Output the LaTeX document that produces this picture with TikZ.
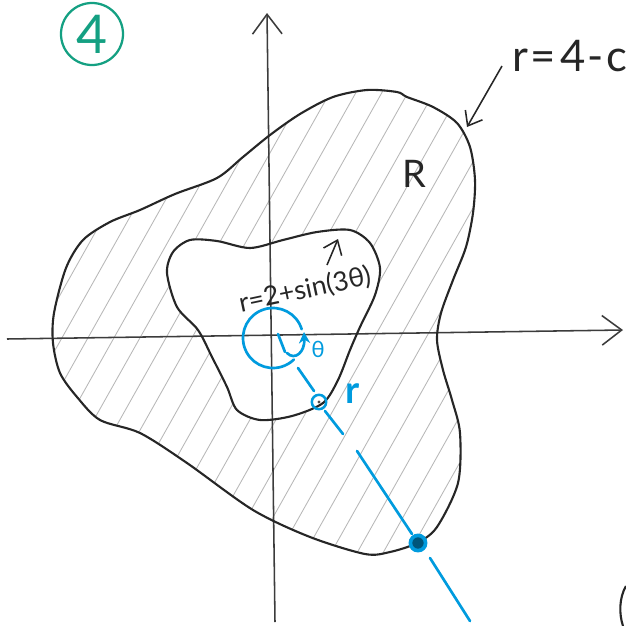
\documentclass[tikz,border=0pt]{standalone}
\usepackage{fontspec}
\setmainfont{Lato}
\usetikzlibrary{arrows.meta}
\definecolor{penblue}{RGB}{0,155,222}
\definecolor{pengreen}{RGB}{20,160,130}
\definecolor{pencil}{RGB}{60,60,60}
\newcommand\outerpath{plot[smooth cycle, tension=0.5] coordinates {(53,343) (54,313) (66,268) (83,240) (110,222) (140,210) (175,194) (217,178) (243,157) (270,135) (300,114) (333,97) (367,90) (397,92) (407,97) (433,107) (457,123) (470,147) (475,180) (473,213) (466,247) (453,280) (441,313) (437,340) (443,370) (452,400) (460,433) (458,483) (437,527) (417,543) (390,552) (365,554) (310,537) (253,510) (187,463) (140,433) (100,420) (77,397) (60,373)}}
\newcommand\innerpath{plot[smooth cycle, tension=0.5] coordinates {(167,273) (173,252) (190,240) (217,241) (250,248) (283,240) (317,232) (350,230) (370,243) (380,268) (375,295) (360,327) (350,350) (338,380) (323,403) (292,416) (260,420) (237,410) (227,387) (212,357) (198,330) (177,307)}}
\tikzset{
  curve/.style={draw=black!85, line width=1.5pt},
  axis/.style={draw=pencil, line width=1.1pt, -{Straight Barb[length=14pt,width=21pt,line width=1.1pt]}},
  hatch/.style={draw=black!28, line width=0.6pt},
  bluestroke/.style={draw=penblue, line width=1.9pt, line cap=round},
  labelarrow/.style={draw=black!85, line width=1.1pt, -{Straight Barb[length=9pt,width=14pt,line width=1.1pt]}},
  hand/.style={inner sep=0pt, text=black!85}
}
\begin{document}
\begin{tikzpicture}[x=0.025cm,y=-0.025cm]
\useasboundingbox (0,0) rectangle (626,626);
\fill[white] (0,0) rectangle (626,626);

% hatching of region R
\begin{scope}[even odd rule]
  \clip \outerpath \innerpath;
  \foreach \c in {-420,-394,...,650} \draw[hatch] (\c,640) -- ++(360,-640);
\end{scope}

% axes
\coordinate (xs) at (7,339);
\coordinate (xe) at (623,330);
\coordinate (ys) at (275,622);
\coordinate (ye) at (267,13);
\draw[axis] (xs) -- (xe);
\draw[axis] (ys) -- (ye);

% curves
\draw[curve] \outerpath;
\draw[curve] \innerpath;

% small fragment at bottom right
\draw[curve] (626,586) .. controls (619,598) and (619,614) .. (623,626);

% labels
\node[circle, draw=pengreen, line width=1.6pt, text=pengreen, minimum size=1.55cm, inner sep=0pt,
      font=\fontsize{38}{40}\selectfont] (num) at (92,34) {4};
\node[hand, anchor=base west, font=\fontsize{31}{36}\selectfont] (outlbl) at (512,71)
  {r\kern2pt=\kern3pt4\kern1pt-\kern2pt c};
\coordinate (outtip) at (467,127);
\coordinate (outtail) at (502,66);
\draw[labelarrow] (outtail) -- (outtip);

\node[hand, font=\fontsize{27}{30}\selectfont] (R) at (414,174) {R};

\node[hand, rotate=12, font=\fontsize{19}{21}\selectfont] (inlbl) at (305,290) {r=2+sin(3θ)};
\coordinate (intail) at (327,265);
\coordinate (intip) at (338,239);
\draw[labelarrow] (intail) -- (intip);

% blue: angle circle and ray
\coordinate (O) at (273,338);
\draw[bluestroke] (O) ++(-17:30) arc[start angle=-17, end angle=-314, radius=30];
\coordinate (t1) at (278,334);
\coordinate (t2) at (285,352);
\draw[bluestroke] (t1) -- (t2);
\coordinate (a1) at (287,353);
\coordinate (a2) at (304,332);
\draw[bluestroke, -{Stealth[length=8pt,width=8pt]}] (a1) .. controls (295,361) and (305,352) .. (a2);
\node[hand, text=penblue, font=\fontsize{16}{18}\selectfont] (theta) at (318,349) {θ};

\coordinate (s1a) at (298,368);
\coordinate (s1b) at (314,391);
\draw[bluestroke] (s1a) -- (s1b);
\node[circle, draw=penblue, line width=1.8pt, minimum size=0.36cm, inner sep=0pt] (p1) at (319,402) {};
\fill[black!70] (p1.center) circle (1.6);
\coordinate (s2a) at (325,411);
\coordinate (s2b) at (343,434);
\draw[bluestroke] (s2a) -- (s2b);
\coordinate (s3a) at (357,451);
\coordinate (s3b) at (412,534);
\draw[bluestroke] (s3a) -- (s3b);
\node[circle, draw=penblue, fill=penblue!55!black, line width=2.6pt, minimum size=0.38cm, inner sep=0pt] (p2) at (418,543) {};
\coordinate (s4a) at (430,558);
\coordinate (s4b) at (470,621);
\draw[bluestroke] (s4a) -- (s4b);
\node[hand, text=penblue, font=\bfseries\fontsize{27}{30}\selectfont] (rr) at (353,394) {r};
\end{tikzpicture}
\end{document}
